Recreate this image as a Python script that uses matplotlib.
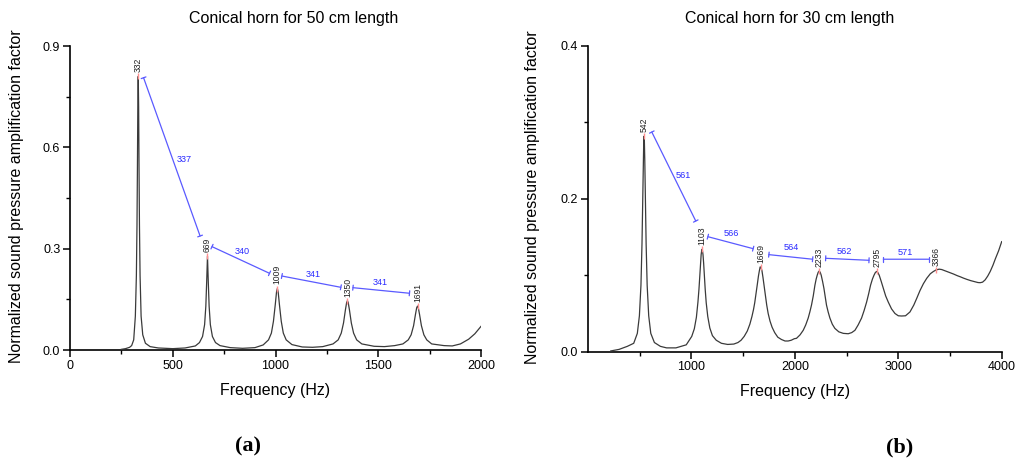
import matplotlib
matplotlib.use("Agg")
import matplotlib.pyplot as plt
from matplotlib.ticker import MultipleLocator, FixedLocator, FormatStrFormatter

plt.rcParams['font.family'] = ['Liberation Sans', 'DejaVu Sans']

# ---------------- Data: panel (a) 50 cm ----------------
freq_a = [250, 270, 290, 300, 310, 318, 323, 326, 328, 330, 332, 334, 336, 338, 341, 346,
          354, 367, 390, 430, 500, 560, 610, 630, 645, 655, 661, 665, 669, 673, 677, 683,
          693, 708, 730, 780, 840, 900, 940, 966, 980, 990, 999, 1005, 1009, 1013, 1019,
          1028, 1038, 1052, 1080, 1130, 1180, 1230, 1280, 1305, 1320, 1331, 1340, 1346,
          1350, 1354, 1360, 1369, 1380, 1395, 1420, 1480, 1530, 1580, 1620, 1646, 1660,
          1672, 1681, 1687, 1691, 1695, 1701, 1710, 1722, 1736, 1760, 1820, 1860, 1900,
          1940, 1970, 2000]
amp_a = [0.002, 0.004, 0.008, 0.013, 0.03, 0.10, 0.22, 0.37, 0.53, 0.72, 0.81, 0.72, 0.53,
         0.37, 0.22, 0.10, 0.045, 0.02, 0.01, 0.006, 0.004, 0.006, 0.012, 0.022, 0.04, 0.075,
         0.13, 0.20, 0.278, 0.20, 0.13, 0.075, 0.04, 0.022, 0.013, 0.007, 0.005, 0.007,
         0.015, 0.03, 0.05, 0.085, 0.135, 0.172, 0.182, 0.172, 0.135, 0.085, 0.05, 0.03,
         0.016, 0.009, 0.008, 0.01, 0.018, 0.03, 0.05, 0.08, 0.118, 0.14, 0.146, 0.14,
         0.118, 0.08, 0.05, 0.03, 0.018, 0.011, 0.01, 0.013, 0.018, 0.03, 0.045, 0.072,
         0.105, 0.125, 0.130, 0.125, 0.105, 0.072, 0.045, 0.03, 0.018, 0.013, 0.012, 0.018,
         0.032, 0.048, 0.07]
peaks_a_f = [332, 669, 1009, 1350, 1691]
peaks_a_v = [0.81, 0.278, 0.182, 0.146, 0.130]
peaks_a_lbl = ["332", "669", "1009", "1350", "1691"]
dim_a_start = [(358, 0.806), (691, 0.306), (1031, 0.219), (1377, 0.1845)]
dim_a_end = [(633, 0.3375), (971, 0.227), (1318, 0.1856), (1652, 0.168)]
dim_a_lbl = ["337", "340", "341", "341"]
dim_a_lblpos = [(555, 0.565), (836, 0.291), (1185, 0.225), (1510, 0.199)]

# ---------------- Data: panel (b) 30 cm ----------------
freq_b = [220, 300, 380, 442, 477, 497, 512, 522, 530, 535, 539, 542, 545, 549, 554, 562,
          572, 587, 607, 642, 700, 760, 850, 950,
          1003, 1028, 1048, 1063, 1073, 1081, 1088, 1094, 1099, 1103, 1107, 1112, 1118,
          1125, 1133, 1143, 1158, 1178, 1203, 1240, 1290, 1350, 1410, 1450, 1480,
          1510, 1540, 1565, 1585, 1600, 1612, 1625, 1637, 1648, 1657, 1665, 1673, 1682,
          1692, 1703, 1715, 1728, 1742, 1760, 1780, 1805, 1835, 1870, 1905, 1935, 1965,
          1995, 2016, 2050, 2081, 2105, 2129, 2145, 2161, 2178, 2194, 2206, 2216, 2226,
          2235, 2245, 2255, 2268, 2281, 2294, 2306, 2322, 2339, 2362, 2387, 2425, 2468,
          2516, 2550, 2581, 2612, 2645, 2670, 2694, 2714, 2732, 2750, 2765, 2778, 2790,
          2803, 2816, 2835, 2855, 2878, 2903, 2935, 2968, 3000, 3032, 3070, 3113, 3150,
          3179, 3210, 3243, 3275, 3310, 3340, 3366, 3395, 3420, 3450, 3490, 3533, 3570,
          3600, 3630, 3662, 3700, 3740, 3770, 3792, 3815, 3840, 3865, 3889, 3915, 3940,
          3970, 4000]
amp_b = [0.001, 0.003, 0.007, 0.011, 0.024, 0.047, 0.087, 0.141, 0.207, 0.251, 0.276, 0.282,
         0.276, 0.251, 0.207, 0.141, 0.087, 0.047, 0.024, 0.012, 0.007, 0.005, 0.005, 0.009,
         0.02, 0.03, 0.045, 0.065, 0.082, 0.10, 0.116, 0.127, 0.132, 0.134, 0.132, 0.127,
         0.116, 0.10, 0.082, 0.064, 0.046, 0.031, 0.021, 0.015, 0.011, 0.0095, 0.01, 0.012,
         0.015,
         0.02, 0.027, 0.036, 0.046, 0.055, 0.064, 0.076, 0.088, 0.099, 0.106, 0.111, 0.110,
         0.106, 0.097, 0.086, 0.073, 0.061, 0.050, 0.040, 0.032, 0.025, 0.019, 0.016, 0.014,
         0.014, 0.015, 0.017, 0.0175, 0.022, 0.028, 0.035, 0.044, 0.052, 0.061, 0.073,
         0.087, 0.095, 0.100, 0.104, 0.1055, 0.104, 0.100, 0.092, 0.083, 0.072, 0.061,
         0.052, 0.044, 0.036, 0.0305, 0.026, 0.024, 0.0235, 0.025, 0.028, 0.035, 0.044,
         0.054, 0.065, 0.076, 0.087, 0.095, 0.100, 0.1035, 0.105, 0.1035, 0.100, 0.092,
         0.083, 0.073, 0.065, 0.056, 0.050, 0.047, 0.0467, 0.047, 0.052, 0.061, 0.070,
         0.080, 0.089, 0.096, 0.102, 0.105, 0.107, 0.108, 0.1075, 0.106, 0.104, 0.1017,
         0.0995, 0.098, 0.0963, 0.0947, 0.093, 0.0915, 0.0905, 0.0903, 0.091, 0.094, 0.099,
         0.105, 0.113, 0.122, 0.132, 0.144]
peaks_b_f = [542, 1103, 1669, 2233, 2795, 3366]
peaks_b_v = [0.282, 0.134, 0.111, 0.1056, 0.105, 0.107]
peaks_b_lbl = ["542", "1103", "1669", "2233", "2795", "3366"]
dim_b_start = [(617, 0.2874), (1159, 0.1505), (1749, 0.127), (2298, 0.1222), (2856, 0.121)]
dim_b_end = [(1042, 0.171), (1597, 0.1348), (2172, 0.121), (2717, 0.1196), (3295, 0.121)]
dim_b_lbl = ["561", "566", "564", "562", "571"]
dim_b_lblpos = [(926, 0.231), (1388, 0.155), (1962, 0.1357), (2475, 0.131), (3066, 0.1296)]

W, H = 1024, 469
fig = plt.figure(figsize=(W / 100, H / 100), dpi=100)

def px_axes(l, r, b, t):
    return fig.add_axes([l / W, 1 - b / H, (r - l) / W, (b - t) / H])

ax1 = px_axes(70, 481, 350, 46)
ax2 = px_axes(588, 1001.7, 351.7, 46)

BLUE_LINE = '#5a5aff'
BLUE_TXT = '#2a2aff'

def style(ax):
    for s in ['top', 'right']:
        ax.spines[s].set_visible(False)
    for s in ['left', 'bottom']:
        ax.spines[s].set_linewidth(1.2)
    ax.tick_params(which='major', direction='out', length=5, width=1.1, labelsize=9, pad=2)
    ax.tick_params(which='minor', direction='out', length=3, width=1.0)

def draw(ax, f, v, pf, pv, plbl, ds, de, dl, dlp):
    ax.plot(f, v, color='#3a3a3a', lw=0.9, zorder=3, solid_joinstyle='round')
    ax.plot(pf, pv, ls='none', marker='|', ms=4, mew=1.0, color='#ff8f8f', zorder=4)
    for x, y, t in zip(pf, pv, plbl):
        ax.annotate(t, (x, y), xytext=(0, 3), textcoords='offset points', rotation=90,
                    ha='center', va='bottom', fontsize=6.2, color='#222222')
    for (x0, y0), (x1, y1), t, (lx, ly) in zip(ds, de, dl, dlp):
        ax.annotate('', xy=(x1, y1), xytext=(x0, y0),
                    arrowprops=dict(arrowstyle='|-|,widthA=0.18,widthB=0.18',
                                    color=BLUE_LINE, lw=0.9, shrinkA=0, shrinkB=0))
        ax.text(lx, ly, t, ha='center', va='center', fontsize=6.6, color=BLUE_TXT)

style(ax1)
draw(ax1, freq_a, amp_a, peaks_a_f, peaks_a_v, peaks_a_lbl, dim_a_start, dim_a_end, dim_a_lbl, dim_a_lblpos)
ax1.set_xlim(0, 2000)
ax1.set_ylim(0, 0.9)
ax1.xaxis.set_major_locator(MultipleLocator(500))
ax1.xaxis.set_minor_locator(MultipleLocator(250))
ax1.yaxis.set_major_locator(MultipleLocator(0.3))
ax1.yaxis.set_minor_locator(MultipleLocator(0.15))
ax1.yaxis.set_major_formatter(FormatStrFormatter('%.1f'))

style(ax2)
draw(ax2, freq_b, amp_b, peaks_b_f, peaks_b_v, peaks_b_lbl, dim_b_start, dim_b_end, dim_b_lbl, dim_b_lblpos)
ax2.set_xlim(0, 4000)
ax2.set_ylim(0, 0.4)
ax2.xaxis.set_major_locator(FixedLocator([1000, 2000, 3000, 4000]))
ax2.xaxis.set_minor_locator(FixedLocator([500, 1500, 2500, 3500]))
ax2.yaxis.set_major_locator(MultipleLocator(0.2))
ax2.yaxis.set_minor_locator(MultipleLocator(0.1))
ax2.yaxis.set_major_formatter(FormatStrFormatter('%.1f'))

def ftext(x, y, s, **kw):
    fig.text(x / W, 1 - y / H, s, ha='center', va='center', **kw)

ftext(294, 18, "Conical horn for 50 cm length", fontsize=11.5)
ftext(790, 18, "Conical horn for 30 cm length", fontsize=11.5)
ftext(275, 390, "Frequency (Hz)", fontsize=11.5)
ftext(795, 391, "Frequency (Hz)", fontsize=11.5)
ftext(17, 196, "Normalized sound pressure amplification factor", fontsize=11.5, rotation=90)
ftext(532, 197, "Normalized sound pressure amplification factor", fontsize=11.5, rotation=90)
ftext(248, 446, "(a)", fontsize=16, fontweight='bold', family=['Liberation Serif', 'DejaVu Serif'])
ftext(900, 447, "(b)", fontsize=16, fontweight='bold', family=['Liberation Serif', 'DejaVu Serif'])

fig.savefig("out.png", dpi=100)
